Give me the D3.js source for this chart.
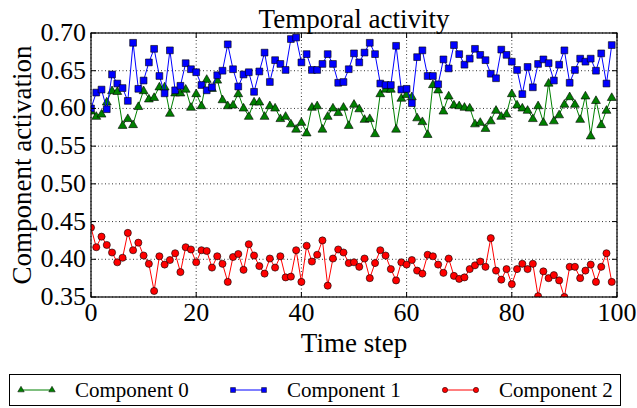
<!DOCTYPE html>
<html><head><meta charset="utf-8">
<script src="https://cdn.jsdelivr.net/npm/d3@7/dist/d3.min.js"></script>
<style>
body{margin:0;background:#fff}
svg{display:block}
text{font-family:"Liberation Serif","Times New Roman",serif;fill:#000}
</style>
</head><body>
<svg id="c" width="637" height="408"></svg>
<script>
const title = "Temporal activity";
const xLabel = "Time step";
const yLabel = "Component activation";
const seriesNames = ["Component 0", "Component 1", "Component 2"];
const xTicks = [0, 20, 40, 60, 80, 100];
const yTicks = [0.35, 0.40, 0.45, 0.50, 0.55, 0.60, 0.65, 0.70];

const comp0 = [0.597,0.590,0.593,0.609,0.624,0.623,0.578,0.587,0.579,0.603,
0.624,0.613,0.615,0.629,0.629,0.594,0.621,0.621,0.626,0.602,
0.620,0.604,0.639,0.627,0.638,0.612,0.604,0.605,0.620,0.601,
0.590,0.609,0.609,0.590,0.604,0.601,0.587,0.590,0.580,0.573,
0.582,0.568,0.602,0.604,0.573,0.590,0.601,0.595,0.602,0.578,
0.606,0.600,0.586,0.587,0.567,0.620,0.626,0.626,0.573,0.614,
0.619,0.616,0.588,0.583,0.566,0.632,0.625,0.597,0.617,0.605,
0.604,0.602,0.601,0.580,0.582,0.574,0.584,0.598,0.590,0.593,
0.620,0.605,0.601,0.598,0.587,0.604,0.582,0.634,0.584,0.592,
0.606,0.616,0.606,0.586,0.617,0.564,0.611,0.579,0.598,0.615];

const comp1 = [0.600,0.621,0.625,0.599,0.645,0.633,0.627,0.610,0.687,0.626,
0.637,0.661,0.679,0.643,0.620,0.677,0.624,0.630,0.660,0.652,
0.648,0.631,0.624,0.628,0.644,0.650,0.685,0.652,0.629,0.645,
0.648,0.622,0.649,0.674,0.635,0.664,0.659,0.651,0.692,0.694,
0.661,0.672,0.651,0.651,0.659,0.672,0.659,0.634,0.635,0.652,
0.673,0.661,0.674,0.687,0.672,0.633,0.631,0.631,0.683,0.625,
0.626,0.607,0.668,0.677,0.643,0.643,0.632,0.665,0.653,0.684,
0.672,0.658,0.666,0.679,0.671,0.664,0.646,0.640,0.678,0.671,
0.662,0.651,0.619,0.655,0.628,0.659,0.665,0.660,0.637,0.658,
0.677,0.634,0.651,0.666,0.662,0.666,0.650,0.673,0.633,0.684];

const comp2 = [0.442,0.416,0.430,0.419,0.409,0.396,0.402,0.435,0.412,0.422,
0.405,0.394,0.358,0.404,0.393,0.399,0.408,0.383,0.416,0.413,
0.396,0.412,0.411,0.389,0.404,0.394,0.370,0.403,0.407,0.386,
0.420,0.405,0.391,0.381,0.401,0.389,0.404,0.376,0.377,0.412,
0.370,0.418,0.397,0.406,0.425,0.365,0.401,0.413,0.409,0.395,
0.396,0.390,0.401,0.375,0.395,0.412,0.405,0.387,0.372,0.396,
0.393,0.399,0.385,0.381,0.406,0.404,0.393,0.382,0.401,0.378,
0.374,0.376,0.387,0.392,0.397,0.390,0.428,0.385,0.373,0.387,
0.367,0.387,0.394,0.387,0.394,0.351,0.384,0.375,0.379,0.372,
0.350,0.390,0.390,0.375,0.385,0.393,0.370,0.390,0.408,0.370];

const seriesColors = ["#008000", "#0000ff", "#ff0000"];
const seriesSymbols = [d3.symbolTriangle, d3.symbolSquare, d3.symbolCircle];
const symbolSizes = [34, 46, 40];
const legendSizes = [18, 24, 22];

const svg = d3.select("#c");
const W = 637, H = 408;
const m = {l: 91, r: 20, t: 33, b: 111};
const pw = W - m.l - m.r, ph = H - m.t - m.b;

const x = d3.scaleLinear().domain([0, 100]).range([m.l, m.l + pw]);
const y = d3.scaleLinear().domain([0.35, 0.70]).range([m.t + ph, m.t]);

svg.append("rect").attr("width", W).attr("height", H).attr("fill", "#fff");

svg.append("defs").append("clipPath").attr("id", "clip")
  .append("rect").attr("x", m.l).attr("y", m.t).attr("width", pw).attr("height", ph);

// grid
const grid = svg.append("g");
grid.selectAll(".gx").data(xTicks).join("line")
  .attr("x1", d => x(d)).attr("x2", d => x(d)).attr("y1", m.t).attr("y2", m.t + ph)
  .attr("stroke", "#000").attr("stroke-width", 0.8).attr("stroke-dasharray", "1,2.5");
grid.selectAll(".gy").data(yTicks).join("line")
  .attr("y1", d => y(d)).attr("y2", d => y(d)).attr("x1", m.l).attr("x2", m.l + pw)
  .attr("stroke", "#000").attr("stroke-width", 0.8).attr("stroke-dasharray", "1,2.5");

// series
const all = [comp0, comp1, comp2];
const plot = svg.append("g").attr("clip-path", "url(#clip)");
all.forEach((vals, k) => {
  const data = vals.map((v, i) => [i, v]);
  const line = d3.line().x(d => x(d[0])).y(d => y(d[1]));
  plot.append("path").datum(data).attr("d", line)
    .attr("fill", "none").attr("stroke", seriesColors[k]).attr("stroke-width", 1);
  const sym = d3.symbol().type(seriesSymbols[k]).size(symbolSizes[k]);
  plot.append("g").selectAll("path").data(data).join("path")
    .attr("transform", d => `translate(${x(d[0])},${y(d[1]) + (k === 0 ? 0.8 : 0)})`)
    .attr("d", sym)
    .attr("fill", seriesColors[k]).attr("stroke", "#000").attr("stroke-width", 0.6);
});

// axes (ticks inward on all sides)
const ax = svg.append("g");
const tl = 5;
xTicks.forEach(t => {
  ax.append("line").attr("x1", x(t)).attr("x2", x(t)).attr("y1", m.t + ph).attr("y2", m.t + ph - tl).attr("stroke", "#000");
  ax.append("line").attr("x1", x(t)).attr("x2", x(t)).attr("y1", m.t).attr("y2", m.t + tl).attr("stroke", "#000");
  ax.append("text").attr("x", x(t)).attr("y", m.t + ph + 24).attr("text-anchor", "middle")
    .attr("font-size", 26).text(d3.format("d")(t));
});
yTicks.forEach(t => {
  ax.append("line").attr("y1", y(t)).attr("y2", y(t)).attr("x1", m.l).attr("x2", m.l + tl).attr("stroke", "#000");
  ax.append("line").attr("y1", y(t)).attr("y2", y(t)).attr("x1", m.l + pw).attr("x2", m.l + pw - tl).attr("stroke", "#000");
  ax.append("text").attr("x", m.l - 5).attr("y", y(t) + 8).attr("text-anchor", "end")
    .attr("font-size", 26).text(d3.format(".2f")(t));
});
ax.append("rect").attr("x", m.l).attr("y", m.t).attr("width", pw).attr("height", ph)
  .attr("fill", "none").attr("stroke", "#000").attr("stroke-width", 1.2);

// titles
svg.append("text").attr("x", m.l + pw / 2).attr("y", 28).attr("text-anchor", "middle")
  .attr("font-size", 27).text(title);
svg.append("text").attr("x", m.l + pw / 2).attr("y", 352).attr("text-anchor", "middle")
  .attr("font-size", 27).text(xLabel);
svg.append("text").attr("transform", `translate(31,${m.t + ph / 2}) rotate(-90)`)
  .attr("text-anchor", "middle").attr("font-size", 27).text(yLabel);

// legend
const lg = svg.append("g");
lg.append("rect").attr("x", 9.5).attr("y", 374.5).attr("width", 611).attr("height", 31)
  .attr("fill", "#fff").attr("stroke", "#000").attr("stroke-width", 1);
const lx = [21, 233, 445];
seriesNames.forEach((name, k) => {
  const yy = 390;
  lg.append("line").attr("x1", lx[k]).attr("x2", lx[k] + 31).attr("y1", yy).attr("y2", yy)
    .attr("stroke", seriesColors[k]).attr("stroke-width", 1);
  const sym = d3.symbol().type(seriesSymbols[k]).size(legendSizes[k]);
  [lx[k], lx[k] + 31].forEach(px => {
    lg.append("path").attr("transform", `translate(${px},${yy})`).attr("d", sym)
      .attr("fill", seriesColors[k]).attr("stroke", "#000").attr("stroke-width", 0.5);
  });
  lg.append("text").attr("x", lx[k] + 54).attr("y", yy + 7).attr("font-size", 21).text(name);
});
</script>
</body></html>
